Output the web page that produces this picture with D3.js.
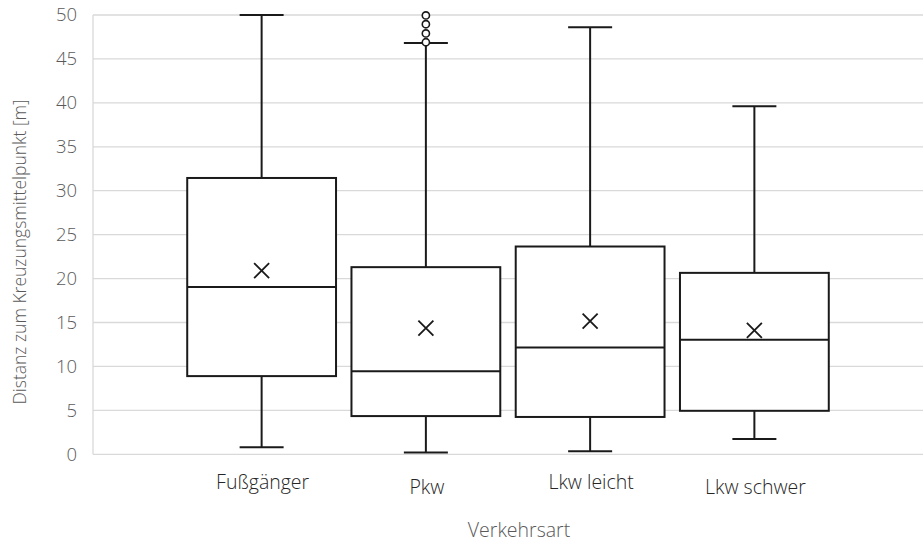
<!DOCTYPE html>
<html><head><meta charset="utf-8">
<script src="https://cdn.jsdelivr.net/npm/d3@7"></script>
<style>
html,body{margin:0;padding:0;background:#fff;}
svg{display:block;font-family:"Open Sans",sans-serif;}
</style></head>
<body>
<svg id="chart" width="923" height="544"></svg>
<script>
const categories = ["Fußgänger", "Pkw", "Lkw leicht", "Lkw schwer"];
const whiskerLow = [0.8, 0.2, 0.35, 1.75];
const q1Values = [8.9, 4.35, 4.25, 4.95];
const medianValues = [19.05, 9.45, 12.15, 13.05];
const q3Values = [31.45, 21.3, 23.65, 20.65];
const whiskerHigh = [50, 46.8, 48.6, 39.6];
const meanValues = [20.9, 14.35, 15.15, 14.1];
const outliers = [[], [46.9, 47.9, 48.95, 49.95], [], []];
const yTicks = [0, 5, 10, 15, 20, 25, 30, 35, 40, 45, 50];
const yTitle = "Distanz zum Kreuzungsmittelpunkt [m]";
const xTitle = "Verkehrsart";

const svg = d3.select("#chart");
const plotLeft = 93, plotRight = 923, plotTop = 15, plotBottom = 454.3;

const y = d3.scaleLinear().domain([0, 50]).range([plotBottom, plotTop]);
const x = d3.scaleBand().domain(categories).range([179.5, 836.5]).padding(0);
const boxW = x.bandwidth() * 0.906;
const capW = 44;

// gridlines
svg.append("g").selectAll("line").data(yTicks).join("line")
  .attr("x1", plotLeft).attr("x2", plotRight)
  .attr("y1", d => y(d)).attr("y2", d => y(d))
  .attr("stroke", "#d9d9d9").attr("stroke-width", 1.3);
svg.append("line").attr("x1", plotLeft).attr("x2", plotLeft)
  .attr("y1", y(50)).attr("y2", y(0)).attr("stroke", "#d9d9d9").attr("stroke-width", 1.3);

// y tick labels
const yAxis = d3.axisLeft(y).tickValues(yTicks).tickSize(0).tickPadding(0);
const yg = svg.append("g").attr("transform", `translate(${77},0)`).call(yAxis);
yg.select(".domain").remove();
yg.selectAll("text").attr("font-size", 18.5).attr("fill", "#595959")
  .attr("font-family", "'Open Sans', sans-serif").attr("font-weight", 300);

// boxes
const data = categories.map((c, i) => ({
  c, lo: whiskerLow[i], q1: q1Values[i], med: medianValues[i], q3: q3Values[i],
  hi: whiskerHigh[i], mean: meanValues[i], out: outliers[i]
}));
const g = svg.append("g").attr("stroke", "#1a1a1a").attr("stroke-width", 2).attr("fill", "none");
data.forEach(d => {
  const cx = x(d.c) + x.bandwidth() / 2;
  g.append("line").attr("x1", cx).attr("x2", cx).attr("y1", y(d.q3)).attr("y2", y(d.hi));
  g.append("line").attr("x1", cx).attr("x2", cx).attr("y1", y(d.q1)).attr("y2", y(d.lo));
  g.append("line").attr("x1", cx - capW / 2).attr("x2", cx + capW / 2).attr("y1", y(d.hi)).attr("y2", y(d.hi));
  g.append("line").attr("x1", cx - capW / 2).attr("x2", cx + capW / 2).attr("y1", y(d.lo)).attr("y2", y(d.lo));
  g.append("rect").attr("x", cx - boxW / 2).attr("width", boxW)
    .attr("y", y(d.q3)).attr("height", y(d.q1) - y(d.q3)).attr("fill", "#fff");
  g.append("line").attr("x1", cx - boxW / 2).attr("x2", cx + boxW / 2).attr("y1", y(d.med)).attr("y2", y(d.med));
  const m = y(d.mean), s = 7.5;
  g.append("path").attr("d", `M${cx - s},${m - s}L${cx + s},${m + s}M${cx - s},${m + s}L${cx + s},${m - s}`)
    .attr("stroke-width", 1.8);
  d.out.forEach(v => {
    g.append("circle").attr("cx", cx).attr("cy", y(v)).attr("r", 3.6).attr("fill", "#fff").attr("stroke-width", 1.6);
  });
});

// category labels
const labelY = [489, 494, 489, 494];
svg.append("g").selectAll("text").data(categories).join("text")
  .attr("x", (d) => x(d) + x.bandwidth() / 2 + 1)
  .attr("y", (d, i) => labelY[i])
  .attr("text-anchor", "middle").attr("font-size", 19.5).attr("font-weight", 300)
  .attr("fill", "#262626").text(d => d);

// axis titles
svg.append("text").attr("x", 519).attr("y", 537).attr("text-anchor", "middle")
  .attr("font-size", 19.5).attr("font-weight", 300).attr("fill", "#595959").text(xTitle);
svg.append("text").attr("transform", "translate(26,252) rotate(-90)").attr("text-anchor", "middle")
  .attr("font-size", 17.5).attr("font-weight", 300).attr("fill", "#595959").text(yTitle);
</script>
</body></html>
